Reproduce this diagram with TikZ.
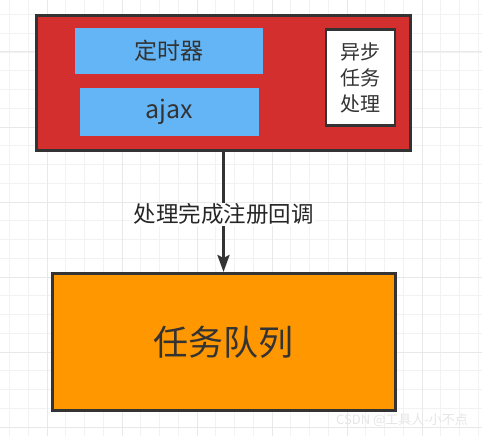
\documentclass[tikz,border=0pt]{standalone}
\usepackage{fontspec}
\newfontfamily\cjk{Noto Sans CJK SC}
\usetikzlibrary{positioning,arrows.meta}
\definecolor{boxline}{HTML}{333333}
\definecolor{redbg}{HTML}{D32F2F}
\definecolor{bluebg}{HTML}{64B5F6}
\definecolor{orangebg}{HTML}{FF9800}
\tikzset{
    box/.style={draw=boxline, line width=3pt, inner sep=0pt, text=boxline, font=\cjk},
    timerbox/.style={fill=bluebg, inner sep=0pt, text=boxline, font=\cjk\fontsize{23}{26}\selectfont},
}

\begin{document}
\begin{tikzpicture}[x=1pt,y=-1pt]
    \useasboundingbox (0,0) rectangle (482,436);
    % grid
    \foreach \gx in {0,...,25}
        \draw[black!5, line width=0.8pt] (9.5+\gx*18.75,0) -- (9.5+\gx*18.75,436);
    \foreach \gy in {0,...,23}
        \draw[black!5, line width=0.8pt] (0,14.5+\gy*18.75) -- (482,14.5+\gy*18.75);
    \foreach \gx in {0,...,6}
        \draw[black!9, line width=1pt] (47+\gx*75,0) -- (47+\gx*75,436);
    \foreach \gy in {0,...,5}
        \draw[black!9, line width=1pt] (0,52+\gy*75) -- (482,52+\gy*75);

    \node (async) [box, fill=redbg, minimum width=374.5pt, minimum height=134.5pt] at (223.5,83) {};
    \node (timer) [timerbox, minimum width=188pt, minimum height=46pt] at (169,51) {定时器};
    \node (ajax) [timerbox, minimum width=179pt, minimum height=48pt,
        font=\cjk\fontsize{25}{28}\selectfont] at (169.5,112) {ajax};
    \node (handle) [box, fill=white, line width=2.5pt, minimum width=69pt, minimum height=96pt,
        align=center, font=\cjk\fontsize{20}{26}\selectfont] at (360.5,77.5) {异步\\任务\\处理};
    \node (queue) [box, fill=orangebg, minimum width=343pt, minimum height=137pt,
        font=\cjk\fontsize{35}{40}\selectfont] at (223.5,342) {任务队列};
    \draw[boxline, line width=3pt, -{Stealth[length=17pt,width=12pt,inset=3pt]}]
        (async) -- node[pos=.52, fill=white, inner sep=1pt, text=black!85,
            font=\cjk\fontsize{22.5}{26}\selectfont] (done) {处理完成注册回调} (queue);
    \node (mark) [text=black!10, font=\cjk\fontsize{13}{15}\selectfont] at (402,420) {CSDN @工具人-小不点};
\end{tikzpicture}
\end{document}
